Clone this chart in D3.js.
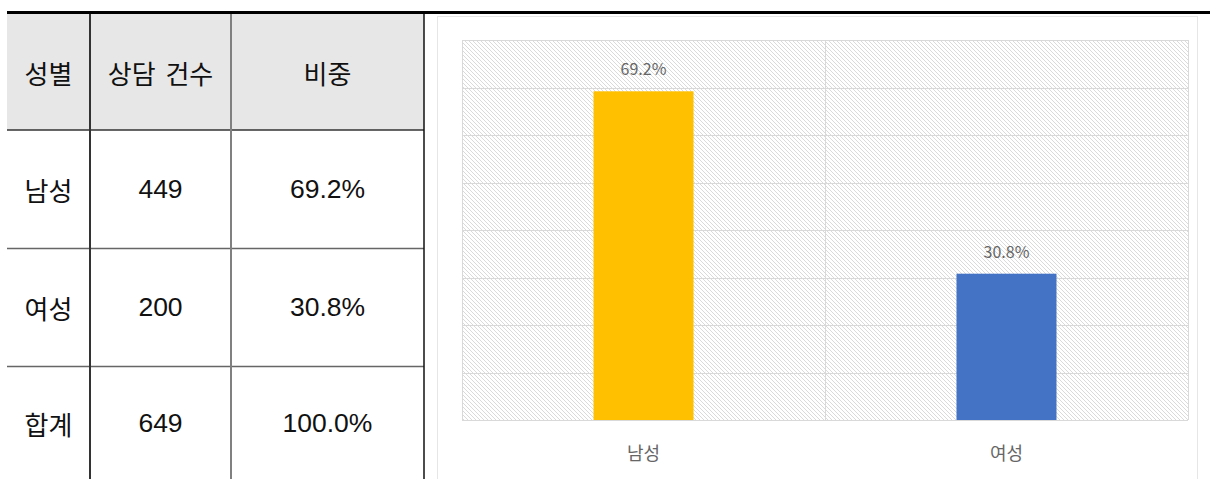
<!DOCTYPE html>
<html>
<head>
<meta charset="utf-8">
<script src="https://cdn.jsdelivr.net/npm/d3@7"></script>
<style>
  html, body { margin: 0; padding: 0; background: #fff; }
  svg { display: block; }
</style>
</head>
<body>
<svg id="root" width="1210" height="479"></svg>
<script>
// Consultation counts by gender
const headers = ["성별", "상담 건수", "비중"];
const categories = ["남성", "여성"];
const counts = [449, 200];
const shares = [69.2, 30.8];
const totalLabel = "합계";
const totalCount = 649;
const totalShare = 100.0;
const barColors = ["#FFC000", "#4472C4"];
const yTicks = [0, 10, 20, 30, 40, 50, 60, 70, 80];

const svg = d3.select("#root");

// ---------- table ----------
const tableFont = "'Liberation Sans', 'Noto Sans CJK KR', sans-serif";
const colEdges = [7, 90, 231, 424];
const rowEdges = [14, 130, 248, 366, 484];

const rows = [headers]
  .concat(categories.map((c, i) => [c, String(counts[i]), shares[i].toFixed(1) + "%"]))
  .concat([[totalLabel, String(totalCount), totalShare.toFixed(1) + "%"]]);

const table = svg.append("g");
table.append("rect")
  .attr("x", colEdges[0]).attr("y", rowEdges[0])
  .attr("width", colEdges[3] - colEdges[0]).attr("height", rowEdges[1] - rowEdges[0])
  .attr("fill", "#e7e7e7");

rows.forEach((r, ri) => {
  r.forEach((txt, ci) => {
    const korean = ri === 0 || ci === 0;
    table.append("text")
      .attr("x", (colEdges[ci] + colEdges[ci + 1]) / 2)
      .attr("y", (rowEdges[ri] + rowEdges[ri + 1]) / 2 + (ri === 3 ? -2 : 0))
      .attr("text-anchor", "middle")
      .attr("dominant-baseline", "central")
      .attr("font-family", korean ? "'Noto Sans CJK KR', sans-serif" : tableFont)
      .attr("font-size", korean ? 26 : 26.5)
      .attr("word-spacing", korean ? 4 : 0)
      .attr("fill", "#111")
      .text(txt);
  });
});

// horizontal rules between rows
[[130, "#333", 1.5], [248.5, "#666", 1.5], [366.5, "#666", 1.5]].forEach(([y, c, w]) => {
  table.append("line").attr("x1", colEdges[0]).attr("x2", colEdges[3])
    .attr("y1", y).attr("y2", y).attr("stroke", c).attr("stroke-width", w);
});
// vertical rules
[[90, "#333", 2], [231, "#808080", 2], [424, "#111", 1.5]].forEach(([x, c, w]) => {
  table.append("line").attr("x1", x).attr("x2", x)
    .attr("y1", 14).attr("y2", 479).attr("stroke", c).attr("stroke-width", w);
});

// ---------- chart panel ----------
svg.append("rect")
  .attr("x", 437.5).attr("y", 16.5).attr("width", 760).attr("height", 470)
  .attr("fill", "#fff").attr("stroke", "#e6e6e6").attr("stroke-width", 1);

// thick top rule
svg.append("rect").attr("x", 7).attr("y", 11).attr("width", 1203).attr("height", 3).attr("fill", "#000");

// diagonal hatch for the plot background
const defs = svg.append("defs");
const pat = defs.append("pattern")
  .attr("id", "hatch").attr("patternUnits", "userSpaceOnUse")
  .attr("width", 4).attr("height", 4);
pat.append("rect").attr("width", 4).attr("height", 4).attr("fill", "#fff");
pat.append("path")
  .attr("d", "M-1,-1 L5,5 M-1,3 L1,5 M3,-1 L5,1")
  .attr("stroke", "#dadada").attr("stroke-width", 1);

const plot = { left: 462, right: 1188, top: 40, bottom: 420 };

const x = d3.scaleBand()
  .domain(categories)
  .range([plot.left, plot.right])
  .paddingInner(0.7245)
  .paddingOuter(0.3623);

const y = d3.scaleLinear().domain([0, 80]).range([plot.bottom, plot.top]);

const chart = svg.append("g");
chart.append("rect")
  .attr("x", plot.left).attr("y", plot.top)
  .attr("width", plot.right - plot.left).attr("height", plot.bottom - plot.top)
  .attr("fill", "url(#hatch)");

// horizontal gridlines
chart.append("g").selectAll("line").data(yTicks).join("line")
  .attr("x1", plot.left).attr("x2", plot.right)
  .attr("y1", d => Math.round(y(d)) + 0.5).attr("y2", d => Math.round(y(d)) + 0.5)
  .attr("stroke", "#d9d9d9").attr("stroke-width", 1);

// vertical category dividers (including plot edges)
const step = x.step();
const dividers = [plot.left, ...categories.slice(1).map(c => x(c) - (step - x.bandwidth()) / 2), plot.right];
chart.append("g").selectAll("line").data(dividers).join("line")
  .attr("x1", d => Math.round(d) + 0.5).attr("x2", d => Math.round(d) + 0.5)
  .attr("y1", plot.top).attr("y2", plot.bottom)
  .attr("stroke", "#d9d9d9").attr("stroke-width", 1);

// bars
chart.append("g").selectAll("rect").data(categories).join("rect")
  .attr("x", d => x(d))
  .attr("y", (d, i) => y(shares[i]))
  .attr("width", x.bandwidth())
  .attr("height", (d, i) => y(0) - y(shares[i]))
  .attr("fill", (d, i) => barColors[i]);

const chartFont = "'Noto Sans CJK KR', 'Liberation Sans', sans-serif";

// value labels
chart.append("g").selectAll("text").data(categories).join("text")
  .attr("x", d => x(d) + x.bandwidth() / 2)
  .attr("y", (d, i) => y(shares[i]) - 16)
  .attr("text-anchor", "middle")
  .attr("font-family", chartFont)
  .attr("font-size", 16)
  .attr("fill", "#666")
  .text((d, i) => shares[i].toFixed(1) + "%");

// category axis labels
chart.append("g").selectAll("text").data(categories).join("text")
  .attr("x", d => x(d) + x.bandwidth() / 2)
  .attr("y", 452)
  .attr("text-anchor", "middle")
  .attr("dominant-baseline", "central")
  .attr("font-family", chartFont)
  .attr("font-size", 18)
  .attr("fill", "#666")
  .text(d => d);
</script>
</body>
</html>
